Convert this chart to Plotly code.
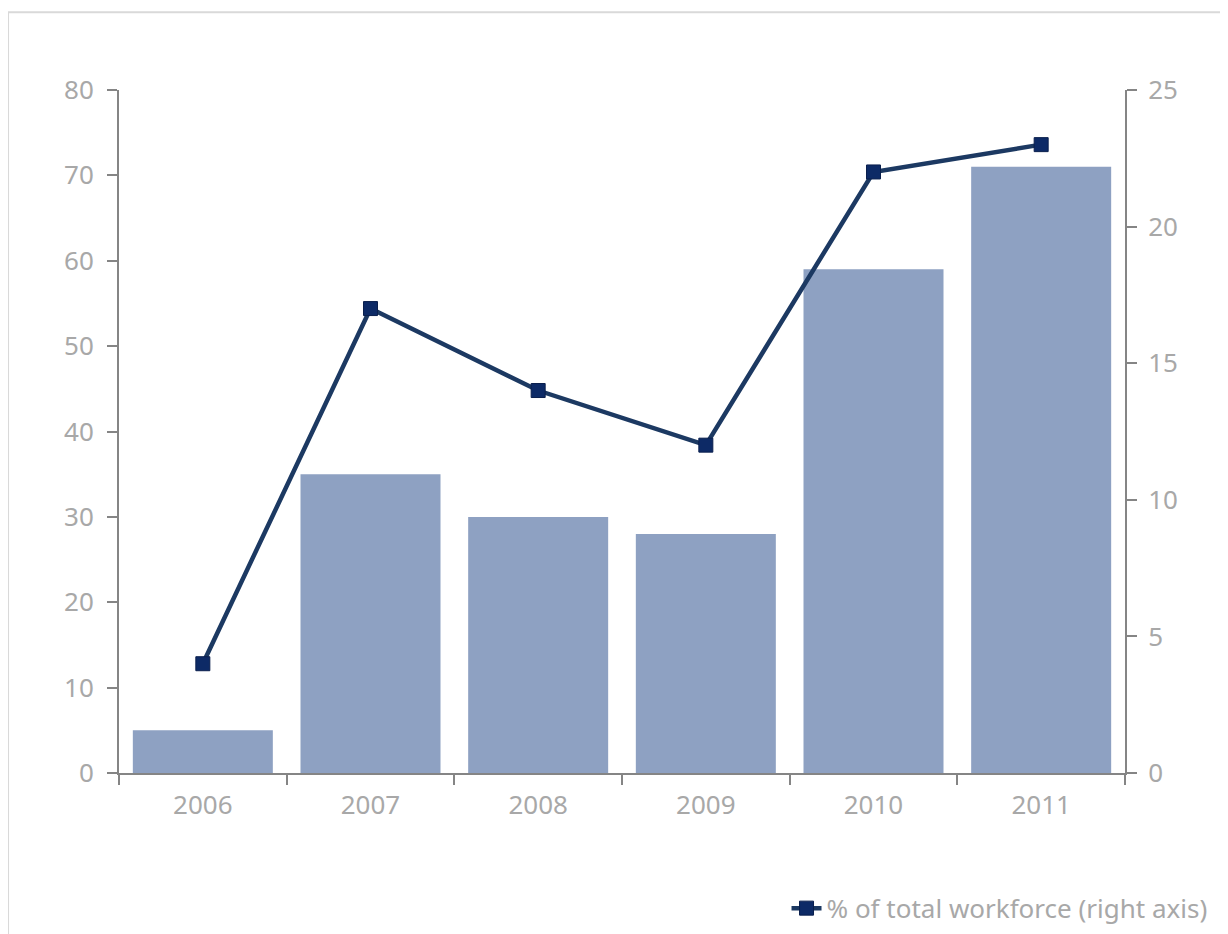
import plotly.graph_objects as go

years = ["2006", "2007", "2008", "2009", "2010", "2011"]
bar_values = [5, 35, 30, 28, 59, 71]
pct_workforce = [4, 17, 14, 12, 22, 23]
left_ticks = [0, 10, 20, 30, 40, 50, 60, 70, 80]
right_ticks = [0, 5, 10, 15, 20, 25]

FONT = "Noto Sans"
TICK_COLOR = "#a8a8a8"
AXIS_COLOR = "#858585"
FS = 26

fig = go.Figure()
fig.add_trace(go.Bar(
    x=years, y=bar_values, marker=dict(color="#8ea1c2", line=dict(width=0)),
    showlegend=False, name="bars"))
fig.add_trace(go.Scatter(
    x=years, y=pct_workforce, yaxis="y2", mode="lines+markers",
    name="% of total workforce (right axis)",
    line=dict(color="#1c3962", width=4.5),
    marker=dict(symbol="square", size=14, color="#0d2a66",
                line=dict(color="#0a1f4d", width=1))))

fig.update_layout(
    width=1220, height=926,
    margin=dict(l=111, r=103, t=82, b=161, autoexpand=False),
    paper_bgcolor="white", plot_bgcolor="white",
    font=dict(family=FONT, size=FS, color=TICK_COLOR),
    bargap=0.165,
    xaxis=dict(
        showline=True, linecolor=AXIS_COLOR, linewidth=2,
        ticks="outside", tickson="boundaries", ticklen=10, tickcolor=AXIS_COLOR,
        tickwidth=2, tickfont=dict(family=FONT, size=FS, color=TICK_COLOR),
        ticklabelstandoff=8,
        showgrid=False, zeroline=False, automargin=False),
    yaxis=dict(
        range=[0, 80], tickvals=left_ticks, showline=True, linecolor=AXIS_COLOR,
        linewidth=2, ticks="outside", ticklen=10, tickcolor=AXIS_COLOR, tickwidth=2,
        tickfont=dict(family=FONT, size=FS, color=TICK_COLOR),
        ticklabelstandoff=8,
        showgrid=False, zeroline=False, automargin=False),
    yaxis2=dict(
        range=[0, 25], tickvals=right_ticks, overlaying="y", side="right",
        showline=True, linecolor=AXIS_COLOR, linewidth=2, ticks="outside",
        ticklen=10, tickcolor=AXIS_COLOR, tickwidth=2,
        tickfont=dict(family=FONT, size=FS, color=TICK_COLOR),
        ticklabelstandoff=6,
        showgrid=False, zeroline=False, automargin=False),
    legend=dict(
        x=1.087, xanchor="right", y=-0.198, yanchor="middle",
        font=dict(family=FONT, size=FS, color=TICK_COLOR),
        bgcolor="rgba(0,0,0,0)", itemwidth=30),
    shapes=[dict(
        type="rect", xref="paper", yref="paper",
        x0=-0.1103, y0=-0.4, x1=1.2, y1=1.114,
        line=dict(color="#d9d9d9", width=2), fillcolor="rgba(0,0,0,0)",
        layer="below")],
)

fig.write_html("out.html")
